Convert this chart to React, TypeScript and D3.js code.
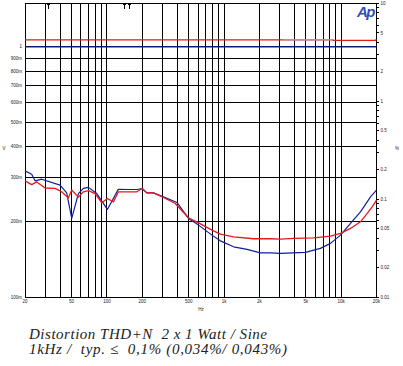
import { useRef, useEffect } from 'react';
import * as d3 from 'd3';

// THD+N traces (% , right axis)
const redFreq = [20, 22.8, 25.2, 29.7, 36.1, 41.1, 46.9, 50.1, 57.1, 63, 69.5, 79.3, 90.5, 101, 113.7, 125.4, 158, 180, 200, 219, 250, 304, 383, 497, 606, 788, 929, 1206, 1787, 2483, 3021, 3929, 5822, 8094, 9850, 12000, 14600, 16670, 18370, 20000];
const redThd = [0.154, 0.141, 0.150, 0.130, 0.129, 0.119, 0.103, 0.124, 0.105, 0.119, 0.122, 0.114, 0.0917, 0.1017, 0.0938, 0.119, 0.1187, 0.119, 0.1286, 0.116, 0.116, 0.104, 0.0904, 0.0645, 0.0573, 0.0483, 0.0440, 0.0412, 0.0394, 0.0394, 0.0391, 0.0397, 0.0403, 0.0419, 0.0447, 0.0502, 0.0587, 0.0715, 0.0834, 0.0977];

const blueFreq = [20, 22.8, 24.4, 27.8, 39.8, 45.4, 50.1, 57.1, 63, 69.5, 82, 101, 125, 158, 180, 200, 219, 250, 304, 396, 497, 606, 788, 929, 1206, 1571, 2040, 2483, 3021, 4946, 6640, 8094, 9850, 12000, 14600, 17780, 20000];
const blueThd = [0.1945, 0.180, 0.154, 0.160, 0.139, 0.116, 0.0636, 0.114, 0.129, 0.132, 0.114, 0.0785, 0.126, 0.1256, 0.1256, 0.1286, 0.116, 0.116, 0.1056, 0.0926, 0.0636, 0.0543, 0.0429, 0.0375, 0.0326, 0.0307, 0.0283, 0.0283, 0.0279, 0.0286, 0.0314, 0.0353, 0.0429, 0.0565, 0.0742, 0.1056, 0.1236];

// output level traces (V, left axis)
const redLevelFreq = [20, 8500, 8600, 19700, 19800, 20000];
const redLevelV = [1.066, 1.066, 1.061, 1.061, 1.068, 1.068];
const blueLevelFreq = [20, 20000];
const blueLevelV = [1.0, 1.0];
const grayLevelFreq = [3200, 8500];
const grayLevelV = [1.066, 1.066];

// axes
const freqGrid = [30, 40, 50, 60, 70, 80, 90, 100, 200, 300, 400, 500, 600, 700, 800, 900, 1000, 2000, 3000, 4000, 5000, 6000, 7000, 8000, 9000, 10000];
const freqLabels = [20, 50, 100, 200, 500, 1000, 2000, 5000, 10000, 20000];
const freqLabelText = ['20', '50', '100', '200', '500', '1k', '2k', '5k', '10k', '20k'];
const voltTicks = [1, 0.9, 0.8, 0.7, 0.6, 0.5, 0.4, 0.3, 0.2, 0.1];
const voltLabels = ['1', '900m', '800m', '700m', '600m', '500m', '400m', '300m', '200m', '100m'];
const pctTicks = [10, 5, 2, 1, 0.5, 0.2, 0.1, 0.05, 0.02, 0.01];
const pctLabels = ['10', '5', '2', '1', '0.5', '0.2', '0.1', '0.05', '0.02', '0.01'];
const markerFreqs = [31.5, 141, 155];

export default function App() {
  const svgRef = useRef<SVGSVGElement>(null);

  useEffect(() => {
    if (!svgRef.current) return;
    const svg = d3.select(svgRef.current);
    svg.selectAll('*').remove();

    const left = 25, right = 376.5, top = 3.5, bottom = 297;
    const x = d3.scaleLog().domain([20, 20000]).range([left, right]);
    const yV = d3.scaleLog().domain([0.1, 1.49]).range([bottom, top]);
    const yP = d3.scaleLog().domain([0.01, 10]).range([bottom, top]);
    const tickFont = 'Liberation Sans, Arial, sans-serif';

    svg.append('rect').attr('width', 403).attr('height', 366).attr('fill', '#fff');

    // grid
    const grid = svg.append('g').attr('stroke', '#000').attr('stroke-width', 1).attr('shape-rendering', 'crispEdges');
    grid.selectAll('.vg').data(freqGrid).join('line')
      .attr('x1', d => x(d)).attr('x2', d => x(d)).attr('y1', top).attr('y2', bottom);
    grid.selectAll('.hg').data(voltTicks.slice(0, -1)).join('line')
      .attr('x1', left).attr('x2', right).attr('y1', d => yV(d)).attr('y2', d => yV(d));
    grid.append('rect').attr('x', left).attr('y', top).attr('width', right - left).attr('height', bottom - top).attr('fill', 'none');

    // right axis minor/major ticks
    const minor: number[] = [];
    [0.01, 0.1, 1].forEach(dec => { for (let k = 1; k <= 9; k++) minor.push(dec * k); });
    minor.push(10);
    grid.selectAll('.rt').data(minor).join('line')
      .attr('x1', right).attr('x2', right + 2.5).attr('y1', d => yP(d)).attr('y2', d => yP(d));

    // top markers
    const mk = svg.append('g').attr('stroke', '#000').attr('shape-rendering', 'crispEdges');
    markerFreqs.forEach(f => {
      mk.append('line').attr('x1', x(f)).attr('x2', x(f)).attr('y1', top).attr('y2', top + 5);
      mk.append('line').attr('x1', x(f) - 1.5).attr('x2', x(f) + 1.5).attr('y1', top + 1).attr('y2', top + 1);
    });

    // labels
    svg.append('g').selectAll('text').data(voltTicks).join('text')
      .attr('x', left - 3).attr('y', d => yV(d)).attr('dy', '0.35em')
      .attr('text-anchor', 'end').attr('font-size', 4.5).attr('font-family', tickFont).attr('fill', '#222')
      .text((_, i) => voltLabels[i]);
    svg.append('g').selectAll('text').data(pctTicks).join('text')
      .attr('x', right + 4).attr('y', d => yP(d)).attr('dy', '0.35em')
      .attr('text-anchor', 'start').attr('font-size', 4.5).attr('font-family', tickFont).attr('fill', '#222')
      .text((_, i) => pctLabels[i]);
    svg.append('g').selectAll('text').data(freqLabels).join('text')
      .attr('x', d => x(d)).attr('y', bottom + 5.5)
      .attr('text-anchor', 'middle').attr('font-size', 4.5).attr('font-family', tickFont).attr('fill', '#222')
      .text((_, i) => freqLabelText[i]);
    svg.append('text').attr('x', 201).attr('y', 311).attr('text-anchor', 'middle')
      .attr('font-size', 4.5).attr('font-family', tickFont).attr('fill', '#222').text('Hz');
    svg.append('text').attr('x', 4).attr('y', 150).attr('text-anchor', 'middle')
      .attr('font-size', 4.5).attr('font-family', tickFont).attr('fill', '#222').text('V');
    svg.append('text').attr('x', 397).attr('y', 150).attr('text-anchor', 'middle')
      .attr('font-size', 4.5).attr('font-family', tickFont).attr('fill', '#222').text('%');

    // traces
    const lineP = d3.line<[number, number]>().x(d => x(d[0])).y(d => yP(d[1]));
    const lineV = d3.line<[number, number]>().x(d => x(d[0])).y(d => yV(d[1]));
    const zip = (a: number[], b: number[]) => a.map((v, i) => [v, b[i]] as [number, number]);

    svg.append('path').attr('d', lineV(zip(blueLevelFreq, blueLevelV))!)
      .attr('fill', 'none').attr('stroke', '#10209a').attr('stroke-width', 1.3);
    svg.append('path').attr('d', lineV(zip(redLevelFreq, redLevelV))!)
      .attr('fill', 'none').attr('stroke', '#e01818').attr('stroke-width', 1.3);
    svg.append('path').attr('d', lineV(zip(grayLevelFreq, grayLevelV))!)
      .attr('fill', 'none').attr('stroke', '#a8a8a8').attr('stroke-width', 1.3);

    svg.append('path').attr('d', lineP(zip(blueFreq, blueThd))!)
      .attr('fill', 'none').attr('stroke', '#10209a').attr('stroke-width', 1.2).attr('stroke-linejoin', 'round');
    svg.append('path').attr('d', lineP(zip(redFreq, redThd))!)
      .attr('fill', 'none').attr('stroke', '#e81818').attr('stroke-width', 1.3).attr('stroke-linejoin', 'round');

    // Ap logo
    svg.append('text').attr('x', 357).attr('y', 17).attr('font-size', 15).attr('font-style', 'italic')
      .attr('font-weight', 700).attr('font-family', tickFont).attr('fill', '#3050b8').attr('letter-spacing', -1.5).text('Ap');

    // caption
    const cap = svg.append('g').attr('font-family', 'Liberation Serif, serif').attr('font-style', 'italic')
      .attr('font-size', 15).attr('fill', '#222');
    cap.append('text').attr('x', 29).attr('y', 339).attr('xml:space', 'preserve')
      .attr('textLength', 238).attr('lengthAdjust', 'spacing').text('Distortion THD+N  2 x 1 Watt / Sine');
    cap.append('text').attr('x', 29).attr('y', 354).attr('xml:space', 'preserve')
      .attr('textLength', 258).attr('lengthAdjust', 'spacing').text('1kHz /  typ. \u2264  0,1% (0,034%/ 0,043%)');
  }, []);

  return (
    <svg ref={svgRef} width={403} height={366}
      style={{ position: 'absolute', left: 0, top: 0, display: 'block' }} />
  );
}
